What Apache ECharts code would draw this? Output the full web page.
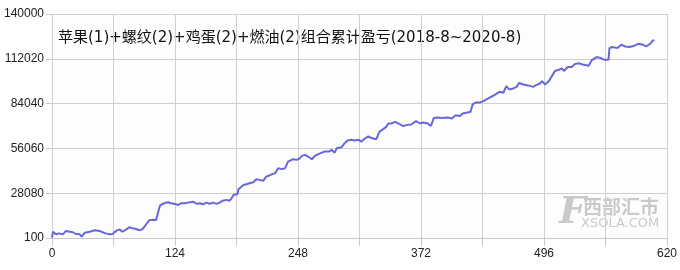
<!DOCTYPE html>
<html>
<head>
<meta charset="utf-8">
<script src="https://cdn.jsdelivr.net/npm/echarts@6/dist/echarts.min.js"></script>
<style>
html,body{margin:0;padding:0;background:#fff;}
#c{width:680px;height:270px;}
</style>
</head>
<body>
<div id="c"></div>
<script>
var titleText = '苹果(1)+螺纹(2)+鸡蛋(2)+燃油(2)组合累计盈亏(2018-8~2020-8)';
var yTickLabels = [100, 28080, 56060, 84040, 112020, 140000];
var xTickLabels = [0, 124, 248, 372, 496, 620];

var xs = [0,1,4,7,11,14,18,21,24,28,30,33,38,43,48,51,54,58,61,65,68,71,75,78,81,85,88,91,94,96,98,102,105,107,108,109,111,113,
117,120,124,127,130,134,137,142,146,149,152,156,159,162,166,169,172,176,179,181,183,185,187,188,190,193,196,199,203,206,209,213,216,219,
222,225,228,232,235,238,240,243,247,250,252,255,258,262,265,269,272,275,279,282,285,287,289,292,295,298,302,305,309,312,316,319,322,327,329,
330,332,337,339,342,346,351,354,357,362,367,371,374,379,382,385,389,394,399,403,407,411,414,419,422,424,427,431,435,441,446,451,455,458,461,465,468,
471,475,480,485,488,492,494,497,501,504,507,511,514,516,520,524,527,531,535,541,544,549,553,557,561,562,565,570,574,578,582,587,591,596,599,603,605,607];

var pnl = [300,4000,2400,3000,2400,4500,4000,3700,2600,2400,900,3400,4000,4900,4500,3700,3000,2400,2600,4700,5500,4000,5500,6800,6200,5700,4900,5500,7800,8700,11200,11500,11400,10300,18500,20500,21200,21800,
22400,21800,21400,20700,21800,21800,22200,22800,21400,21800,21200,22200,21400,22200,21400,22200,23400,23900,23400,24900,27000,25900,27600,30600,31800,33200,33700,34300,34900,36800,36400,35900,38400,39100,
40000,40600,43700,43100,43700,47800,48900,49300,48900,50000,51400,52000,51000,49300,51400,52600,53400,54100,54100,55100,53400,56200,57200,56800,59300,61000,61400,61000,61400,60300,62500,63500,62500,61800,61400,
66400,67500,69500,71600,71600,72600,71000,70000,70600,71000,73100,71600,72200,71600,70100,75100,75300,75100,75300,74700,76800,76200,77800,78500,78900,83500,84700,84700,85600,87700,89300,91400,90800,95000,92900,93500,94300,
97000,96000,95400,94500,95600,96600,98100,96000,98100,101200,104400,105200,106000,104400,106900,106900,108700,109200,108500,107700,111000,113100,112500,111400,111400,118700,119400,118700,120800,119700,119400,120200,121400,120800,119700,121400,122900,123900];

var seriesData = xs.map(function(x, i){ return [x, pnl[i]]; });

var chart = echarts.init(document.getElementById('c'));
var axisFont = {color:'#222', fontSize:12, fontFamily:'Liberation Sans, Arial, sans-serif'};
chart.setOption({
  animation:false,
  backgroundColor:'#ffffff',
  grid:{left:52, right:13, top:14, bottom:32, show:true, backgroundColor:'#fdfdfd', borderWidth:0},
  xAxis:{
    type:'value', min:0, max:620, interval:62,
    axisLine:{show:true, lineStyle:{color:'#c8c8c8', width:1}},
    axisTick:{show:true, length:8, lineStyle:{color:'#c8c8c8'}},
    splitLine:{show:true, lineStyle:{color:'#d0d0d0', width:1}},
    axisLabel:Object.assign({margin:10, formatter:function(v){ return xTickLabels.indexOf(v) >= 0 ? String(v) : ''; }}, axisFont)
  },
  yAxis:{
    type:'value', min:100, max:140000,
    axisLine:{show:false},
    axisTick:{show:true, length:6, customValues:yTickLabels, lineStyle:{color:'#c8c8c8'}},
    splitLine:{show:true, lineStyle:{color:'#d0d0d0', width:1}},
    axisLabel:Object.assign({margin:8, customValues:yTickLabels, formatter:function(v){ return String(v); }}, axisFont)
  },
  graphic:[
    {type:'text', left:58, top:31, style:{text:titleText, fill:'#111', font:'15px "DejaVu Sans", "Noto Sans CJK SC", sans-serif'}},
    {type:'text', left:559, top:194, style:{text:'F', fill:'#cacaca', font:'italic bold 38px "DejaVu Serif", serif'}},
    {type:'text', left:583, top:197, style:{text:'西部汇市', fill:'#cacaca', font:'bold 19px "Noto Sans CJK SC", sans-serif'}},
    {type:'text', left:581, top:217, style:{text:'XSOLA.COM', fill:'#cacaca', font:'13px "DejaVu Sans", sans-serif'}}
  ],
  series:[{
    type:'line', data:seriesData, showSymbol:false, symbol:'none',
    lineStyle:{color:'#6868da', width:2}
  }]
});
</script>
</body>
</html>
